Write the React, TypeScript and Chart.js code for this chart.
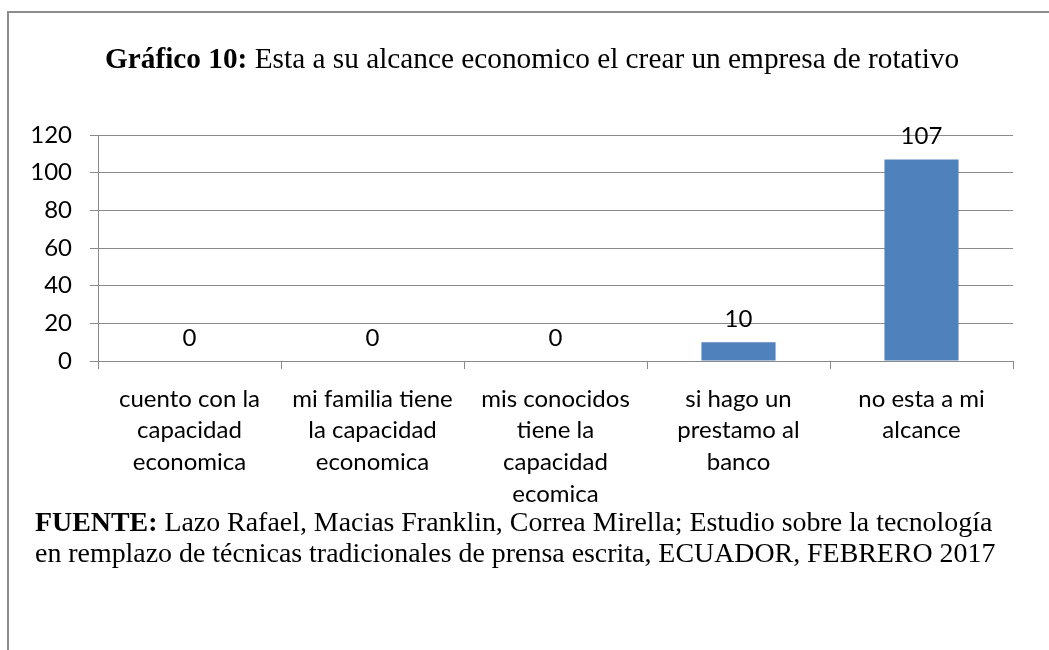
import React, { useEffect, useRef } from "react";
import { Chart, registerables } from "chart.js";

Chart.register(...registerables);

const categories: string[][] = [
  ["cuento con la", "capacidad", "economica"],
  ["mi familia tiene", "la capacidad", "economica"],
  ["mis conocidos", "tiene la", "capacidad", "ecomica"],
  ["si hago un", "prestamo al", "banco"],
  ["no esta a mi", "alcance"],
];
const values: number[] = [0, 0, 0, 10, 107];
const yTicks: number[] = [0, 20, 40, 60, 80, 100, 120];

const barColor = "#4F81BD";
const gridColor = "#8a8a8a";
const sansFont = "Lato, 'Noto Sans', sans-serif";

const dataLabels = {
  id: "dataLabels",
  afterDatasetsDraw(chart: any) {
    const ctx = chart.ctx;
    const meta = chart.getDatasetMeta(0);
    ctx.save();
    ctx.fillStyle = "#000";
    ctx.font = `24px ${sansFont}`;
    ctx.textAlign = "center";
    ctx.textBaseline = "middle";
    meta.data.forEach((bar: any, i: number) => {
      ctx.fillText(String(values[i]), bar.x, bar.y - 23);
    });
    ctx.restore();
  },
};

export default function App() {
  const ref = useRef<HTMLCanvasElement>(null);
  useEffect(() => {
    if (!ref.current) return;
    const chart = new Chart(ref.current, {
      type: "bar",
      data: {
        labels: categories,
        datasets: [
          {
            data: values,
            backgroundColor: barColor,
            borderWidth: 0,
            categoryPercentage: 1,
            barPercentage: 0.405,
          },
        ],
      },
      options: {
        responsive: false,
        animation: false,
        events: [],
        layout: { padding: { top: 135, right: 36, left: 0, bottom: 0 } },
        plugins: {
          legend: { display: false },
          title: { display: false },
          tooltip: { enabled: false },
        },
        scales: {
          x: {
            offset: true,
            grid: {
              offset: true,
              drawOnChartArea: false,
              drawTicks: true,
              tickLength: 8,
              color: gridColor,
            },
            border: { display: true, color: gridColor },
            ticks: {
              color: "#000",
              font: { family: sansFont, size: 24, lineHeight: 1.32 },
              maxRotation: 0,
              minRotation: 0,
              autoSkip: false,
              padding: 14,
            },
            afterFit: (s: any) => {
              s.height = 289;
            },
          },
          y: {
            min: 0,
            max: 120,
            afterBuildTicks: (s: any) => {
              s.ticks = yTicks.map((v) => ({ value: v }));
            },
            grid: { color: gridColor, tickLength: 8 },
            border: { display: true, color: gridColor },
            ticks: {
              color: "#000",
              font: { family: sansFont, size: 24 },
              padding: 18,
            },
            afterFit: (s: any) => {
              s.width = 98;
            },
          },
        },
      },
      plugins: [dataLabels],
    });
    return () => chart.destroy();
  }, []);

  return (
    <div
      style={{
        position: "absolute",
        left: 0,
        top: 0,
        width: 1049,
        height: 650,
        overflow: "hidden",
        background: "#fff",
      }}
    >
      <div
        style={{
          position: "absolute",
          left: 7,
          top: 11,
          width: 1100,
          height: 700,
          borderTop: "2px solid #8c8c8c",
          borderLeft: "2px solid #8c8c8c",
        }}
      />
      <canvas
        ref={ref}
        width={1049}
        height={650}
        style={{ position: "absolute", left: 0, top: 0, width: 1049, height: 650 }}
      />
      <div
        style={{
          position: "absolute",
          left: 105,
          top: 41,
          whiteSpace: "nowrap",
          fontFamily: "'Liberation Serif', 'Times New Roman', serif",
          fontSize: 29.3,
          lineHeight: "34px",
          color: "#000",
        }}
      >
        <b>Gráfico 10:</b> Esta a su alcance economico el crear un empresa de rotativo
      </div>
      <div
        style={{
          position: "absolute",
          left: 35,
          top: 506,
          whiteSpace: "nowrap",
          fontFamily: "'Liberation Serif', 'Times New Roman', serif",
          fontSize: 27.9,
          lineHeight: "31px",
          color: "#000",
        }}
      >
        <b>FUENTE:</b> Lazo Rafael, Macias Franklin, Correa Mirella; Estudio sobre la tecnología
        <br />
        en remplazo de técnicas tradicionales de prensa escrita, ECUADOR, FEBRERO 2017
      </div>
    </div>
  );
}
